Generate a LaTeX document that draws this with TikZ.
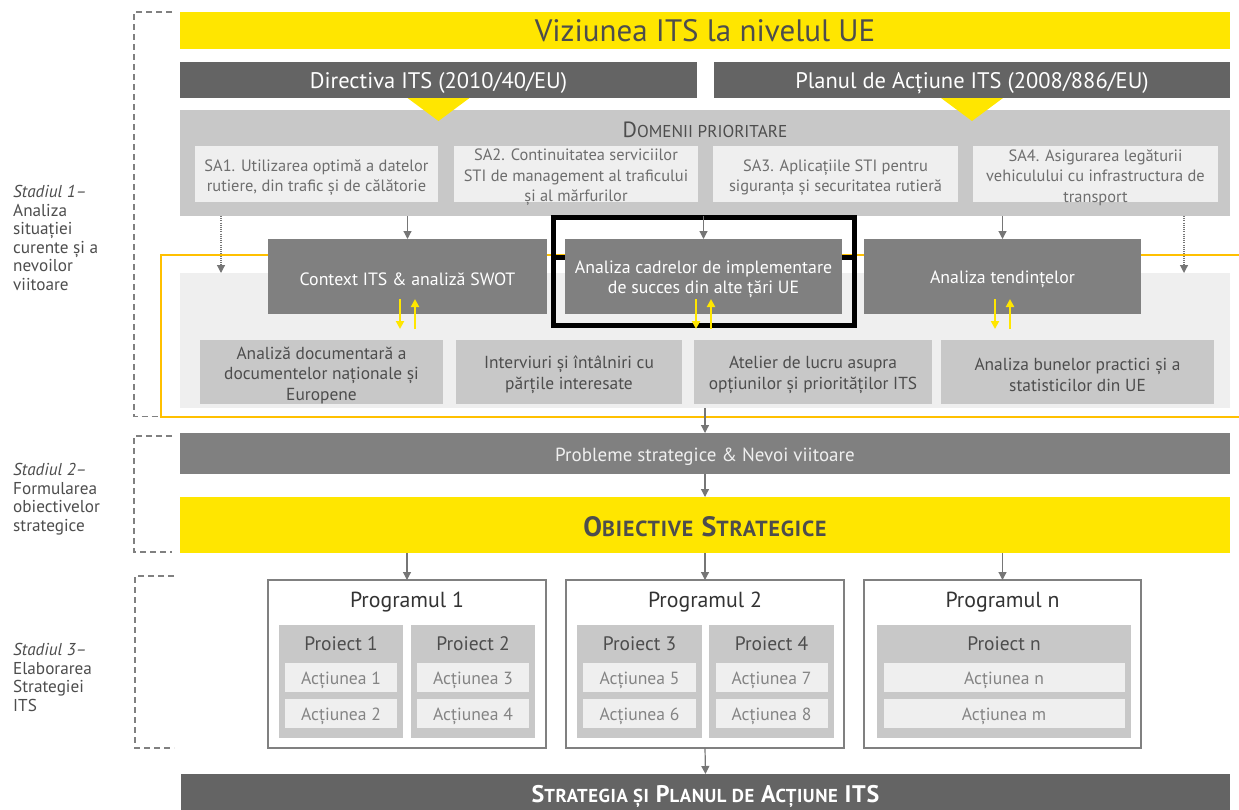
\documentclass[tikz,border=0pt]{standalone}
\usepackage{fontspec}
\setmainfont{PT Sans}
\usepackage{graphicx}
\usetikzlibrary{arrows.meta}

\definecolor{eyYellow}{HTML}{FFE600}
\definecolor{eyOrange}{HTML}{FFC000}
\definecolor{barDark}{HTML}{646464}
\definecolor{barMid}{HTML}{808080}
\definecolor{tileGray}{HTML}{C8C8C8}
\definecolor{tileLight}{HTML}{EFEFEF}
\definecolor{inkDark}{HTML}{4D4D4D}
\definecolor{inkSoft}{HTML}{6E6E6E}
\definecolor{lineGray}{HTML}{767676}

\newcommand{\fsize}[2]{\fontsize{#1}{#2}\selectfont}
\newcommand{\smc}[1]{\scalebox{0.78}{#1}}

% kind, x, y, width, height, name, text
\newcommand{\tile}[7]{
	\node[#1 box, minimum width=#4pt, minimum height=#5pt] (#6) at (#2, #3) {};
	\node[#1 text] (#6Text) at (#6) {#7};
}

% x, width, action width, name, title, first action, second action
\newcommand{\project}[7]{
	\tile{proj}{#1}{681.5}{#2}{113}{#4}{}
	\node[proj title] (#4Title) at ([yshift=-18pt]#4.north) {#5};
	\tile{act}{#1}{677.5}{#3}{29}{#4A}{#6}
	\tile{act}{#1}{713.5}{#3}{29}{#4B}{#7}
}

\tikzset{
	box/.style={inner sep=0pt, outer sep=0pt, draw=none},
	label/.style={inner sep=0pt, align=center},
	drop/.style={yshift=-#1},
	drop/.default=3pt,
	vision box/.style={box, fill=eyYellow},
	vision text/.style={label, font=\fsize{31}{36}, text=inkDark},
	bar box/.style={box, fill=barDark},
	bar text/.style={label, drop, font=\fsize{22.5}{26}, text=white},
	domain box/.style={box, fill=tileGray},
	domain text/.style={label},
	domain title/.style={label, font=\fsize{22}{24}, text=inkDark},
	sa box/.style={box, fill=tileLight},
	sa text/.style={label, drop=3.5pt, font=\fsize{16.4}{20.5}, text=inkSoft},
	panel box/.style={box, fill=tileLight},
	panel text/.style={label},
	task box/.style={box, fill=barMid},
	task text/.style={label, drop, font=\fsize{17.8}{20.5}, text=white},
	method box/.style={box, fill=tileGray},
	method text/.style={label, drop, font=\fsize{17.4}{20.5}, text=inkDark},
	mid box/.style={box, fill=barMid},
	mid text/.style={label, drop, font=\fsize{19}{22}, text=tileLight},
	goal box/.style={box, fill=eyYellow},
	goal text/.style={label, drop=2pt, font=\bfseries\fsize{28}{30}\addfontfeatures{LetterSpace=4}, text=inkDark},
	prog box/.style={box, fill=white, draw=barMid, line width=1.5pt},
	prog text/.style={label},
	prog title/.style={label, drop=2pt, font=\fsize{21.8}{24}, text=black!80},
	proj box/.style={box, fill=tileGray},
	proj text/.style={label},
	proj title/.style={label, drop=1pt, font=\fsize{19.5}{22}, text=inkDark},
	act box/.style={box, fill=tileLight},
	act text/.style={label, drop, font=\fsize{17.6}{20}, text=inkSoft!85},
	final box/.style={box, fill=barDark},
	final text/.style={label, drop, font=\bfseries\fsize{24}{26}\addfontfeatures{LetterSpace=3}, text=white},
	stage label/.style={inner sep=0pt, anchor=west, align=left, font=\fsize{17.2}{18.5}, text=inkDark},
	bracket/.style={draw=barMid, line width=1.5pt, dash pattern=on 6pt off 4pt},
	flow/.style={draw=lineGray, line width=1.2pt, -{Triangle[length=8pt,width=8pt]}},
	hint/.style={flow, dash pattern=on 1pt off 1.2pt},
	swap/.style={draw=eyYellow, line width=2pt, -{Triangle[length=8pt,width=8pt]}},
	focus/.style={draw=black, line width=4.5pt},
}

\begin{document}
\begin{tikzpicture}[x=1pt, y=-1pt]
	\useasboundingbox (0,0) rectangle (1239,809);

	% stages on the left
	\draw[bracket] (172,12) -- (134,12) -- (134,416.5) -- (161,416.5);
	\draw[bracket] (172,436) -- (134,436) -- (134,552) -- (172,552);
	\draw[bracket] (174,576) -- (135,576) -- (135,748) -- (174,748);

	\node[stage label] (stage1) at (13,238) {\textit{Stadiul 1–}\\Analiza\\situației\\curente și a\\nevoilor\\viitoare};
	\node[stage label] (stage2) at (13,499) {\textit{Stadiul 2–}\\Formularea\\obiectivelor\\strategice};
	\node[stage label] (stage3) at (13,677.5) {\textit{Stadiul 3–}\\Elaborarea\\Strategiei\\ITS};

	% EU level
	\tile{vision}{705}{30.5}{1050}{37}{vision}{Viziunea ITS la nivelul UE}
	\tile{bar}{438.5}{80}{517}{36}{directive}{Directiva ITS (2010/40/EU)}
	\tile{bar}{972}{80}{516}{36}{actionPlan}{Planul de Acțiune ITS (2008/886/EU)}

	\tile{domain}{705}{163}{1050}{106}{domains}{}
	\node[domain title] (domainsTitle) at (705,130) {D\smc{OMENII PRIORITARE}};
	\fill[eyYellow] ([xshift=-31pt]directive.south) -- ([xshift=31pt]directive.south) -- ([yshift=-23pt]directive.south) -- cycle;
	\fill[eyYellow] ([xshift=-31pt]actionPlan.south) -- ([xshift=31pt]actionPlan.south) -- ([yshift=-23pt]actionPlan.south) -- cycle;

	\tile{sa}{316.5}{174}{243}{56}{sa1}{SA1. Utilizarea optimă a datelor\\rutiere, din trafic și de călătorie}
	\tile{sa}{576}{174}{244}{56}{sa2}{SA2. Continuitatea serviciilor\\STI de management al traficului\\și al mărfurilor}
	\tile{sa}{835.5}{174}{245}{56}{sa3}{SA3. Aplicațiile STI pentru\\siguranța și securitatea rutieră}
	\tile{sa}{1095.5}{174}{245}{56}{sa4}{SA4. Asigurarea legăturii\\vehiculului cu infrastructura de\\transport}

	% stage 1 analysis
	\draw[eyOrange, line width=2pt] (161,255) rectangle (1250,416.5);
	\tile{panel}{705}{340.5}{1050}{135}{survey}{}

	\tile{task}{407.5}{276.5}{279}{75}{context}{Context ITS \& analiză SWOT}
	\tile{task}{703.5}{276.5}{277}{75}{frameworks}{Analiza cadrelor de implementare\\de succes din alte țări UE}
	\tile{task}{1002.5}{276.5}{277}{75}{trends}{Analiza tendințelor}

	\draw[focus] (553.5,217.5) rectangle (854.5,325.5);
	\draw[black, line width=4.5pt] (553.5,257.5) -- (frameworks.west |- 0,257.5);
	\draw[black, line width=4.5pt] (frameworks.east |- 0,257.5) -- (854.5,257.5);

	\tile{method}{321.5}{372}{243}{64}{desk}{Analiză documentară a\\documentelor naționale și\\Europene}
	\tile{method}{569}{372}{226}{64}{interviews}{Interviuri și întâlniri cu\\părțile interesate}
	\tile{method}{813}{372}{238}{64}{workshop}{Atelier de lucru asupra\\opțiunilor și priorităților ITS}
	\tile{method}{1077.5}{372}{273}{64}{practice}{Analiza bunelor practici și a\\statisticilor din UE}

	\coordinate (dotWest) at (221,0);
	\coordinate (dotEast) at (1184,0);
	\draw[hint] (domains.south -| dotWest) -- (survey.north -| dotWest);
	\draw[hint] (domains.south -| dotEast) -- (survey.north -| dotEast);

	\foreach \taskName in {context, frameworks, trends} {
		\draw[flow] (domains.south -| \taskName.north) -- (\taskName.north);
		\draw[swap] ([xshift=-7.5pt,yshift=15pt]\taskName.south) -- ++(0,30);
		\draw[swap] ([xshift=7.5pt,yshift=-15pt]\taskName.south) -- ++(0,-30);
	}

	% stages 2 and 3
	\tile{mid}{705}{453.5}{1050}{41}{issues}{Probleme strategice \& Nevoi viitoare}
	\tile{goal}{705}{525}{1050}{56}{goals}{O\smc{BIECTIVE} S\smc{TRATEGICE}}

	\tile{prog}{407}{664}{278}{168}{prog1}{}
	\tile{prog}{705}{664}{278}{168}{prog2}{}
	\tile{prog}{1002.5}{664}{277}{168}{progN}{}
	\node[prog title] (prog1Title) at ([yshift=-20pt]prog1.north) {Programul 1};
	\node[prog title] (prog2Title) at ([yshift=-20pt]prog2.north) {Programul 2};
	\node[prog title] (progNTitle) at ([yshift=-20pt]progN.north) {Programul n};

	\project{341}{124}{112}{proj1}{Proiect 1}{Acțiunea 1}{Acțiunea 2}
	\project{473}{124}{112}{proj2}{Proiect 2}{Acțiunea 3}{Acțiunea 4}
	\project{639.5}{125}{113}{proj3}{Proiect 3}{Acțiunea 5}{Acțiunea 6}
	\project{771.5}{125}{112}{proj4}{Proiect 4}{Acțiunea 7}{Acțiunea 8}
	\project{1004}{254}{241}{projN}{Proiect n}{Acțiunea n}{Acțiunea m}

	\tile{final}{705.5}{793}{1049}{38}{strategy}{S\smc{TRATEGIA ȘI} P\smc{LANUL DE} A\smc{CȚIUNE} ITS}

	\draw[flow] (survey.south) -- (issues.north);
	\draw[flow] (issues.south) -- (goals.north);
	\foreach \prog in {prog1, prog2, progN}
		\draw[flow] (goals.south -| \prog.north) -- (\prog.north);
	\draw[flow] (prog2.south) -- (strategy.north);
\end{tikzpicture}
\end{document}
